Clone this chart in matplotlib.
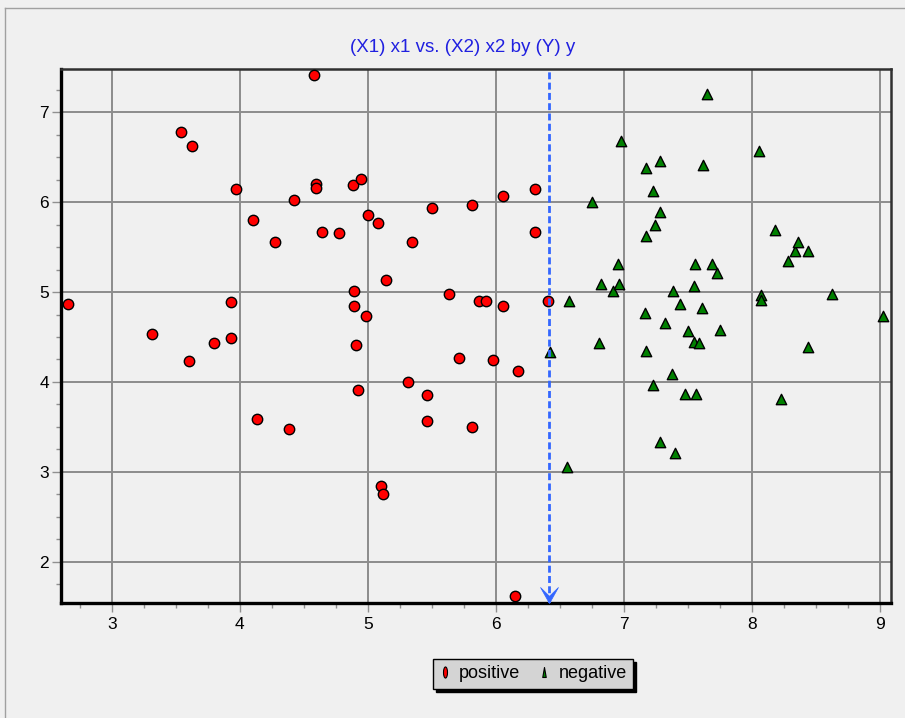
import matplotlib.pyplot as plt
from matplotlib.lines import Line2D
from matplotlib.path import Path
from matplotlib.ticker import MultipleLocator
from matplotlib.transforms import Affine2D

plt.rcParams['font.family'] = ['Liberation Sans', 'DejaVu Sans']

# class "positive" (red circles)
pos_x1 = [2.656, 3.315, 3.539, 3.630, 3.604, 3.799, 3.934, 3.934, 3.973, 4.106,
          4.133, 4.278, 4.383, 4.422, 4.578, 4.594, 4.594, 4.645, 4.778, 4.883,
          4.948, 4.895, 4.895, 4.909, 4.922, 4.989, 5.002, 5.080, 5.106, 5.120,
          5.146, 5.318, 5.346, 5.463, 5.463, 5.505, 5.635, 5.716, 5.817, 5.817,
          5.870, 5.927, 5.977, 6.057, 6.057, 6.174, 6.307, 6.307, 6.151, 6.411]
pos_x2 = [4.865, 4.530, 6.777, 6.625, 4.231, 4.434, 4.884, 4.490, 6.142, 5.800,
          3.592, 5.559, 3.477, 6.027, 7.410, 6.205, 6.160, 5.670, 5.652, 6.194,
          6.254, 5.013, 4.846, 4.416, 3.908, 4.732, 5.860, 5.764, 2.842, 2.750,
          5.133, 4.004, 5.559, 3.852, 3.570, 5.934, 4.977, 4.264, 5.968, 3.496,
          4.902, 4.902, 4.249, 4.846, 6.068, 4.119, 6.142, 5.670, 1.621, 4.902]

# class "negative" (green triangles)
neg_x1 = [6.424, 6.555, 6.570, 6.755, 6.807, 6.820, 6.914, 6.953, 6.965, 6.979,
          7.166, 7.177, 7.177, 7.177, 7.229, 7.229, 7.242, 7.281, 7.281, 7.281,
          7.320, 7.377, 7.388, 7.401, 7.440, 7.479, 7.505, 7.547, 7.547, 7.559,
          7.562, 7.588, 7.611, 7.617, 7.651, 7.690, 7.729, 7.755, 8.059, 8.073,
          8.073, 8.180, 8.232, 8.284, 8.338, 8.362, 8.442, 8.442, 8.627, 9.023]
neg_x2 = [4.334, 3.058, 4.900, 6.004, 4.428, 5.085, 5.007, 5.311, 5.085, 6.677,
          4.768, 6.376, 5.626, 4.339, 6.120, 3.960, 5.742, 6.454, 5.890, 3.336,
          4.657, 4.089, 5.010, 3.210, 4.862, 3.863, 4.561, 5.066, 4.442, 5.311,
          3.863, 4.428, 4.821, 6.417, 7.204, 5.311, 5.210, 4.579, 6.566, 4.962,
          4.910, 5.686, 3.807, 5.344, 5.452, 5.556, 5.459, 4.390, 4.973, 4.732]

cutoff = 6.419
title = "(X1) x1 vs. (X2) x2 by (Y) y"
xticks = [3, 4, 5, 6, 7, 8, 9]
yticks = [2, 3, 4, 5, 6, 7]

bg = '#f0f0f0'
fig = plt.figure(figsize=(9.05, 7.18), dpi=100, facecolor=bg)
ax = fig.add_axes([0.0674, 0.1606, 0.9168, 0.7433], facecolor=bg)

# thin grey frame around the whole panel
fig.add_artist(Line2D([5 / 905, 5 / 905], [0, 1 - 8 / 718], color='#a0a0a0',
                      lw=1, transform=fig.transFigure))
fig.add_artist(Line2D([5 / 905, 1], [1 - 8 / 718, 1 - 8 / 718], color='#a0a0a0',
                      lw=1, transform=fig.transFigure))

ax.scatter(pos_x1, pos_x2, s=56, marker='o', facecolor='#ff0000',
           edgecolor='black', linewidth=1.0, zorder=3)
ax.scatter(neg_x1, neg_x2, s=56, marker='^', facecolor='#008000',
           edgecolor='black', linewidth=1.0, zorder=3)

ax.set_xlim(2.604, 9.086)
ax.set_ylim(1.543, 7.482)

# decision boundary with arrow head
ax.axvline(cutoff, color='#3366ff', lw=2, linestyle=(0, (2.5, 1.2)), zorder=4)
head = Path([(0, 0), (-0.56, 1), (0, 0.45), (0.56, 1), (0, 0)],
            [Path.MOVETO, Path.LINETO, Path.LINETO, Path.LINETO, Path.CLOSEPOLY])
ax.plot([cutoff], [ax.get_ylim()[0]], marker=head, markersize=23,
        color='#3366ff', mec='#3366ff', mew=0.5, clip_on=False, zorder=5)

ax.set_xticks(xticks)
ax.set_yticks(yticks)
ax.xaxis.set_minor_locator(MultipleLocator(0.25))
ax.yaxis.set_minor_locator(MultipleLocator(0.25))
ax.tick_params(which='major', length=6.5, width=1, color='#909090',
               labelsize=12.5, labelcolor='black')
ax.tick_params(axis='x', which='major', pad=4)
ax.tick_params(axis='y', which='major', pad=2)
ax.tick_params(which='minor', length=3.5, width=1, color='#909090')
ax.grid(True, which='major', color='#8c8c8c', lw=1.4, zorder=0)
ax.set_axisbelow(True)

for side in ['left', 'bottom']:
    ax.spines[side].set_color('black')
    ax.spines[side].set_linewidth(2.4)
for side in ['top', 'right']:
    ax.spines[side].set_color('#303030')
    ax.spines[side].set_linewidth(1.8)

fig.text(462.5 / 905, 1 - 48 / 718, title, color='#2020e0', fontsize=13.5,
         ha='center', va='center')

# legend with narrow squashed markers
ellipse = Path.unit_circle().transformed(Affine2D().scale(0.36, 1))
narrow_tri = Path([(0, 1), (-0.35, -1), (0.35, -1), (0, 1)],
                  [Path.MOVETO, Path.LINETO, Path.LINETO, Path.CLOSEPOLY])
handles = [
    Line2D([], [], ls='none', marker=ellipse, markersize=8,
           mfc='#ff0000', mec='black', mew=0.8),
    Line2D([], [], ls='none', marker=narrow_tri, markersize=7.2,
           mfc='#008000', mec='black', mew=0.8),
]
leg = fig.legend(handles, ['positive', 'negative'], loc='center',
                 bbox_to_anchor=(533 / 905, 1 - 674 / 718), ncol=2,
                 fontsize=13, handlelength=0.6, handletextpad=0.5,
                 columnspacing=1.0, borderpad=0.35, fancybox=False,
                 framealpha=1, facecolor='#d4d4d4', edgecolor='black',
                 shadow={'color': 'black', 'alpha': 1})
leg.get_frame().set_linewidth(1)

fig.savefig('out.png', dpi=100, facecolor=fig.get_facecolor())
